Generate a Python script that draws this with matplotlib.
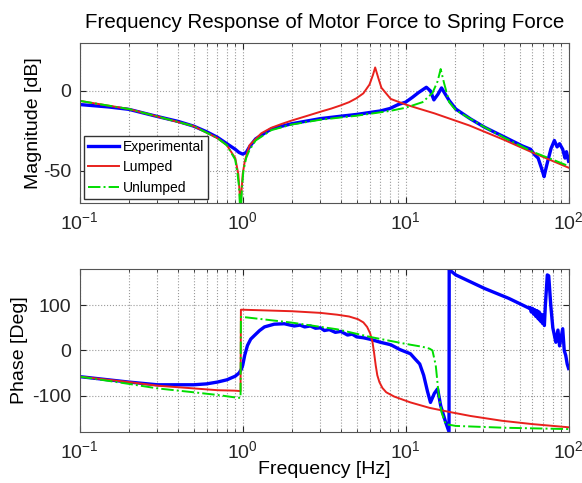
import matplotlib
matplotlib.use('Agg')
import matplotlib.pyplot as plt
import numpy as np
from matplotlib.ticker import LogLocator

plt.rcParams['font.family'] = ['Liberation Sans', 'DejaVu Sans']
plt.rcParams['mathtext.default'] = 'regular'
plt.rcParams['axes.unicode_minus'] = False

# Magnitude [dB] (freq in Hz)
exp_mag_f = [0.1, 0.15, 0.2, 0.3, 0.4, 0.5, 0.6, 0.7, 0.8, 0.9, 0.95, 1.0, 1.05, 1.1, 1.2,
             1.5, 2, 3, 4, 5, 6, 7, 8, 9, 10, 11, 12, 13.4, 14.2, 14.9, 15.8, 16.6, 17.5,
             18.5, 20.3, 25, 30.5, 40.7, 52, 58.5, 62, 65, 68, 70.7, 72, 74, 78, 81.8, 85,
             88, 92, 95, 97, 100]
exp_mag = [-8.5, -10, -11.5, -16, -19, -22, -25.5, -29, -33, -36.5, -38.5, -39.5, -38.5, -35, -30,
           -23.7, -20.5, -17.3, -15.8, -14.7, -13.5, -12.5, -11, -8.5, -7, -4, -1, 2.3, 0, -5.6, -2, 1.9, -2,
           -6, -11.3, -17.5, -22.7, -29, -34.4, -36.5, -40, -42, -48, -53.6, -50, -45, -36, -31, -35,
           -33, -36.5, -42, -38, -44]

lum_mag_f = [0.1, 0.2, 0.3, 0.5, 0.7, 0.8, 0.9, 0.94, 0.96, 0.97, 0.98, 1.0, 1.03, 1.07, 1.1,
             1.3, 1.5, 1.75, 2, 2.5, 3, 3.5, 4, 4.5, 5, 5.5, 6, 6.3, 6.5, 6.8, 7.1, 8.1, 10,
             12, 15, 24.6, 40, 60, 100]
lum_mag = [-6.2, -11.3, -16, -22, -29.5, -34, -42, -52, -65, -80, -65, -52, -44, -38, -34,
           -26.5, -23, -20.5, -18.5, -15.5, -13, -11, -9, -7, -4.5, -1.5, 4, 10, 14.7, 8, 2, -5, -8.5,
           -11, -14, -21.6, -30.5, -38.5, -48]

unl_mag_f = [0.1, 0.2, 0.3, 0.5, 0.7, 0.8, 0.9, 0.93, 0.95, 0.97, 0.99, 1.01, 1.05, 1.1, 1.2,
             1.5, 2, 3, 5, 8, 10, 12.7, 14.6, 15.7, 16.4, 17.2, 18.5, 20.3, 30.5, 40.7, 60, 80, 100]
unl_mag = [-6.2, -11.3, -16, -22, -29.5, -34, -43, -52, -60, -80, -60, -50, -42, -37, -31,
           -24.5, -21, -18, -15.5, -12.5, -10.5, -7, -1.3, 6, 13.7, 5, -7, -12, -22.7, -29.5, -38, -43, -47]

# Phase [Deg]
exp_ph_f = [0.1, 0.2, 0.3, 0.5, 0.6, 0.7, 0.8, 0.9, 0.95, 0.98, 1.0, 1.03, 1.07, 1.12, 1.18,
            1.27, 1.36, 1.56, 1.8, 2.07, 2.25, 2.4, 2.6, 2.8, 3.0, 3.17, 3.4, 3.7, 4.0, 4.4,
            4.7, 5, 5.5, 6.1, 7, 8.1, 9.2, 10.7,
            11.4, 12.2, 12.9, 13.6, 14.2, 15.0, 15.7, 16.4, 17.6, 18.45, 18.5, 18.6, 20.3, 30.5, 43,
            57.5, 58, 59, 60, 61, 62, 63, 64, 65, 66, 67, 68, 69, 70, 71, 72, 74, 75.5, 77.7,
            80, 83.5, 86, 88, 92, 94, 96, 98, 100]
exp_ph = [-58, -70, -76, -76, -74, -70, -65, -57, -50, -42, -33, -10, 11, 25, 33,
          44, 52, 58, 59, 54, 56, 52, 54, 49, 50, 44, 46, 40, 42, 34,
          36, 30, 28, 24.4, 18, 12.6, 2, -7.4,
          -18.5, -30, -55, -90, -115, -95, -85, -122, -159, -180, 180, 178, 167, 137, 115,
          93, 95, 85, 93, 80, 90, 75, 88, 70, 85, 65, 80, 60, 78, 55, 100, 167, 165, 100,
          50, 18, 45, 10, 48, 0, -11, -30, -40]

lum_ph_f = [0.1, 0.2, 0.3, 0.5, 0.7, 0.9, 0.97, 0.975, 1.0, 2, 3, 3.8, 4.5, 5.1, 5.5, 5.8,
            6.05, 6.26, 6.4, 6.55, 6.7, 6.9, 7.2, 7.6, 8.5, 10.7, 14, 18.5, 25, 39, 60, 100]
lum_ph = [-58, -70, -78, -84, -88, -89, -90, 90, 90, 86.7, 83, 79, 75, 69, 62, 52,
          38, 18.5, -5, -33, -55, -70, -83, -92.6, -102, -115, -127, -136, -145, -155.6, -163, -170]

unl_ph_f = [0.1, 0.2, 0.3, 0.5, 0.7, 0.9, 0.97, 0.975, 1.0, 2, 3.8, 6.1, 9.2, 10.7, 12.7,
            14.0, 14.6, 15.3, 15.9, 16.6, 17.6, 20.3, 40, 100]
unl_ph = [-58, -74, -84, -92.6, -98.5, -104, -105, 74, 74, 61.5, 46.7, 29.6, 17, 12.6, 8,
          4, 0, -33, -93, -137, -163, -167, -171, -174]

c_exp = '#0000ff'
c_lum = '#e8211d'
c_unl = '#00dd00'

fig = plt.figure(figsize=(5.82, 4.83), dpi=100)
ax1 = fig.add_axes([0.137, 0.580, 0.840, 0.331])
ax2 = fig.add_axes([0.137, 0.106, 0.840, 0.337])

ax1.semilogx(exp_mag_f, exp_mag, color=c_exp, lw=2.4, label='Experimental')
ax1.semilogx(lum_mag_f, lum_mag, color=c_lum, lw=1.4, label='Lumped')
ax1.semilogx(unl_mag_f, unl_mag, color=c_unl, lw=1.4, ls='-.', label='Unlumped')

ax2.semilogx(exp_ph_f, exp_ph, color=c_exp, lw=2.4)
ax2.semilogx(lum_ph_f, lum_ph, color=c_lum, lw=1.4)
ax2.semilogx(unl_ph_f, unl_ph, color=c_unl, lw=1.4, ls='-.')

ax1.set_ylim(-70, 30)
ax1.set_yticks([-50, 0])
ax2.set_ylim(-180, 180)
ax2.set_yticks([-100, 0, 100])

for ax in (ax1, ax2):
    ax.set_xlim(0.1, 100)
    ax.xaxis.set_major_locator(LogLocator(base=10, numticks=10))
    ax.xaxis.set_minor_locator(LogLocator(base=10, subs=np.arange(2, 10), numticks=10))
    ax.grid(which='major', ls=':', color='#9a9a9a', lw=0.8)
    ax.grid(which='minor', axis='x', ls=':', color='#9a9a9a', lw=0.8)
    ax.tick_params(which='both', direction='in', top=True, right=True,
                   labelsize=14, colors='#262626', pad=6)
    ax.tick_params(which='major', length=4)
    ax.tick_params(which='minor', length=2)
    for s in ax.spines.values():
        s.set_color('#555555')

ax1.set_ylabel('Magnitude [dB]', fontsize=14)
ax1.yaxis.set_label_coords(-0.078, 0.5)
ax2.set_ylabel('Phase [Deg]', fontsize=14)
ax2.yaxis.set_label_coords(-0.106, 0.5)
ax2.set_xlabel('Frequency [Hz]', fontsize=14, labelpad=-1)
ax1.set_title('Frequency Response of Motor Force to Spring Force', fontsize=14.8, pad=11)

leg = ax1.legend(loc='lower left', fontsize=10, handlelength=2.2, labelspacing=0.45,
                 borderaxespad=0.3, fancybox=False, framealpha=1, borderpad=0.3,
                 handletextpad=0.3)
leg.get_frame().set_edgecolor('#333333')
leg.get_frame().set_linewidth(1.0)

fig.savefig('out.png', dpi=100)
